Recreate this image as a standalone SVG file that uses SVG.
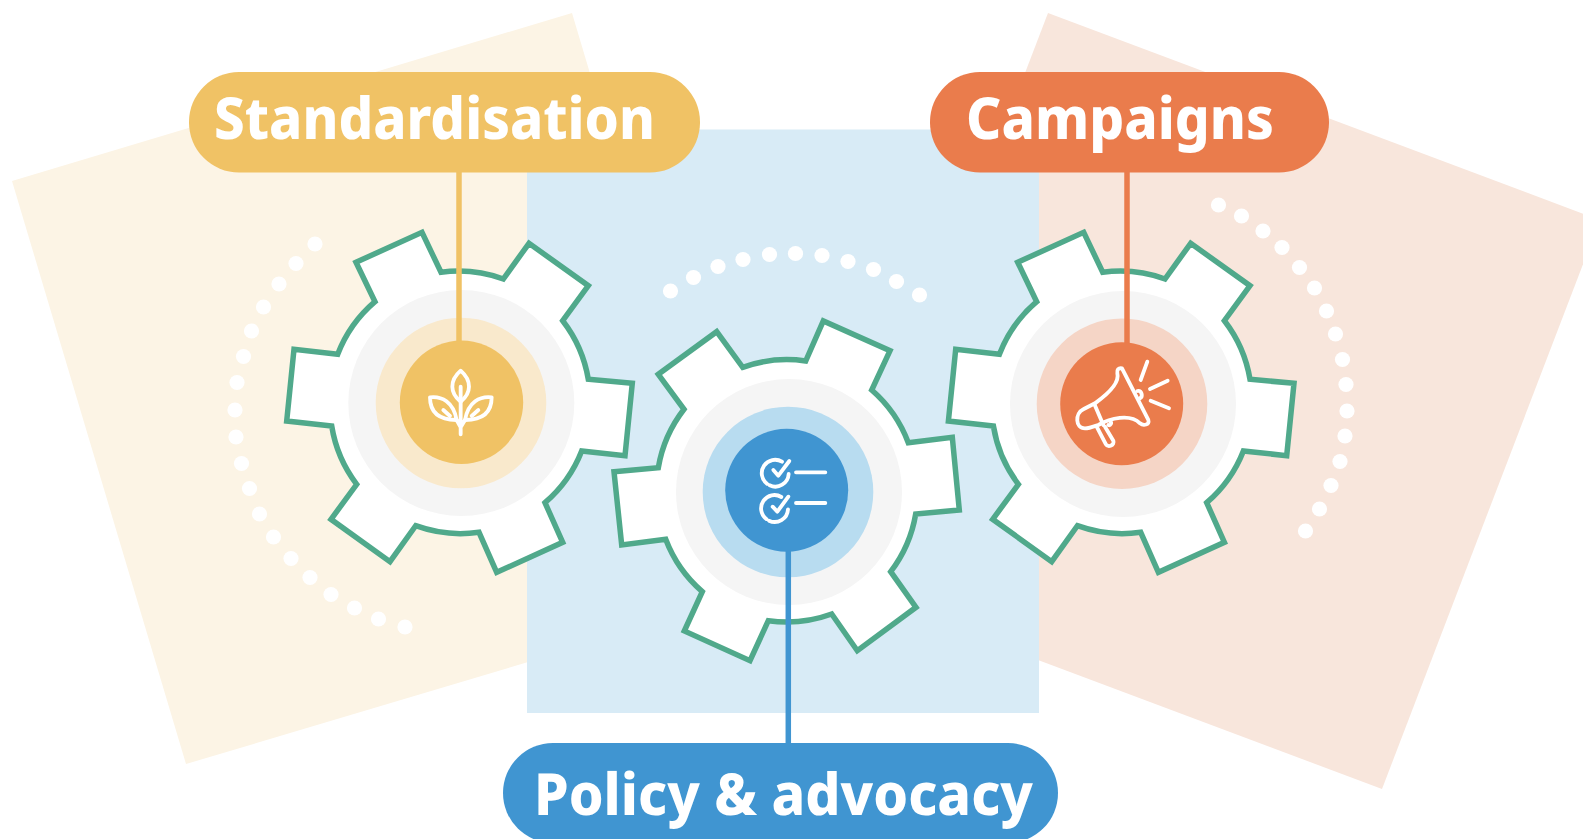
<svg xmlns="http://www.w3.org/2000/svg" width="1583" height="839" viewBox="0 0 1583 839">
<defs>
<style>
.gear{fill:#fff;stroke:#50A98B;stroke-width:5.500;stroke-linejoin:miter}
.grey{fill:#F5F5F5}
.ic{fill:none;stroke:#fff;stroke-width:11.500;stroke-linecap:round;stroke-linejoin:round}
.dots circle{fill:#fff;r:7.6px}
.lab{font-family:"Noto Sans","Liberation Sans",sans-serif;font-weight:800;fill:#fff;font-size:58px;text-rendering:geometricPrecision}
</style>
<path id="g" d="M356 262.3L422 232.3L441 272.3A131 131 0 0 1 503.3 279L529 243.3L588.3 285.7L562.7 320.7A131 131 0 0 1 588.3 379.3L632.3 383.3L625 455.7L581.7 451A131 131 0 0 1 545 502.7L562.7 542.3L496.7 572.3L479 532.3A131 131 0 0 1 415.7 525.7L390 561.7L331 519.3L356.7 484.3A131 131 0 0 1 331.7 426L286.7 421L294 349.3L337.7 354.3A131 131 0 0 1 375 301.7Z"/>
</defs>
<polygon fill="#FCF4E5" points="12,181 572,13 746,597 186,764"/>
<polygon fill="#F8E6DC" points="1048,13 1600,220 1382,789 830,582"/>
<rect x="527" y="129.500" width="512" height="583.500" fill="#D8EBF6"/>
<g id="dots-left" class="dots">
<circle cx="315" cy="244"/><circle cx="296" cy="263.500"/><circle cx="279" cy="284"/><circle cx="263.500" cy="307"/><circle cx="251.500" cy="331"/><circle cx="243.500" cy="356.500"/><circle cx="237" cy="382.500"/><circle cx="235" cy="410"/><circle cx="236" cy="437"/><circle cx="241.500" cy="463.500"/><circle cx="249.500" cy="488.500"/><circle cx="259.500" cy="514"/><circle cx="273.500" cy="537"/><circle cx="291" cy="558.500"/><circle cx="310" cy="577.500"/><circle cx="331" cy="594.500"/><circle cx="354.500" cy="608"/><circle cx="378.500" cy="619"/><circle cx="405" cy="627"/>
</g>
<g id="dots-mid" class="dots">
<circle cx="670.500" cy="291"/><circle cx="693.500" cy="277.500"/><circle cx="718" cy="266.500"/><circle cx="743" cy="259.500"/><circle cx="769.500" cy="254.500"/><circle cx="795.500" cy="253.500"/><circle cx="822" cy="255.500"/><circle cx="848" cy="261.500"/><circle cx="873.500" cy="269.500"/><circle cx="896.500" cy="281.500"/><circle cx="919.500" cy="295"/>
</g>
<g id="dots-right" class="dots">
<circle cx="1218.500" cy="205"/><circle cx="1241.500" cy="216"/><circle cx="1263" cy="231"/><circle cx="1282" cy="247.500"/><circle cx="1299.500" cy="267.500"/><circle cx="1314.500" cy="288"/><circle cx="1326.500" cy="311"/><circle cx="1335.500" cy="334"/><circle cx="1342.500" cy="359.500"/><circle cx="1346" cy="384.500"/><circle cx="1347" cy="411"/><circle cx="1345" cy="436"/><circle cx="1340" cy="461.500"/><circle cx="1331" cy="485.500"/><circle cx="1319.500" cy="509"/><circle cx="1305.500" cy="531"/>
</g>
<g id="gear-standardisation">
<use href="#g" class="gear"/>
<circle class="grey" cx="461.300" cy="403" r="113"/>
<circle cx="461" cy="403" r="85.300" fill="#F9E9CC"/>
</g>
<g id="gear-policy">
<path class="gear" d="M658.300 374.300L716.700 331.700L742.700 367.300A131 131 0 0 1 805.700 361L823.300 321L890 350.700L871.700 390A131 131 0 0 1 908.300 442.700L952.300 437.300L959.300 510L915.700 514A131 131 0 0 1 890.700 571.700L916 607.300L857.300 650.700L831.700 614A131 131 0 0 1 768.300 620.700L750 660.700L684.300 631L702.300 591.700A131 131 0 0 1 665.700 539.300L621.700 545L614 471.700L658.300 467.700A131 131 0 0 1 684 409.300Z"/>
<circle class="grey" cx="789" cy="492" r="113"/>
<circle cx="788" cy="492" r="85.300" fill="#B8DCF0"/>
</g>
<g id="gear-campaigns">
<use href="#g" class="gear" x="661.700"/>
<circle class="grey" cx="1123" cy="404" r="113"/>
<circle cx="1122" cy="403.700" r="85.300" fill="#F5D5C6"/>
</g>
<g id="connectors">
<line x1="459" y1="170" x2="459" y2="345" stroke="#F0C265" stroke-width="5.500"/>
<line x1="1127" y1="170" x2="1127" y2="345" stroke="#EA7C4C" stroke-width="5.500"/>
<line x1="788.300" y1="545" x2="788.300" y2="745" stroke="#4095D1" stroke-width="5.500"/>
</g>
<g id="hub-standardisation">
<circle cx="461.500" cy="402.300" r="61.700" fill="#F0C265"/>
<g class="ic" transform="translate(395 340) scale(.3333)">
<path d="M197 92C182 105 172 120 172 140C172 160 185 175 197 185C209 175 222 160 222 140C222 120 212 105 197 92Z"/>
<path d="M197 140V283M197 262L185 240M197 262L210 240"/>
<path d="M105 172C140 168 175 185 185 240C140 240 105 225 105 172Z"/>
<path d="M290 172C255 168 220 185 210 240C255 240 290 225 290 172Z"/>
<path d="M145 210L165 228M250 210L230 228"/>
</g>
</g>
<g id="hub-policy">
<circle cx="786.700" cy="490.300" r="61.500" fill="#4095D1"/>
<g class="ic" transform="translate(720 425) scale(.3333)">
<path d="M186 110A40 40 0 0 0 141 176M149 181A40 40 0 0 0 206 147"/>
<path d="M160 135L175 152L208 108M228 142H316"/>
<path d="M184 216A40 40 0 0 0 139 282M147 287A40 40 0 0 0 204 253"/>
<path d="M158 245L172 260L205 215M228 234H316"/>
</g>
</g>
<g id="hub-campaigns">
<circle cx="1121.700" cy="403.700" r="61.500" fill="#EA7C4C"/>
<g class="ic" transform="translate(1040 330) scale(.3333)">
<path d="M246 115C235 113 230 120 232 130C240 160 200 195 165 220L130 238C105 250 105 295 135 295C150 295 165 288 175 285C210 265 270 250 300 280C310 288 330 285 325 270L246 115Z"/>
<path d="M163 222L190 285M170 290L197 342C205 355 225 345 220 332L195 290"/>
<path d="M292 183C305 180 310 200 300 205M205 285C212 288 215 278 212 276"/>
<path d="M322 95L302 150M383 152L330 177M332 212L387 235"/>
</g>
</g>
<g id="label-standardisation">
<rect x="189" y="72" width="511" height="100.500" rx="50" fill="#F0C265"/>
<text class="lab" x="214" y="139" textLength="441" lengthAdjust="spacingAndGlyphs">Standardisation</text>
</g>
<g id="label-campaigns">
<rect x="930" y="72" width="399" height="100.500" rx="50" fill="#EA7C4C"/>
<text class="lab" x="966" y="139" textLength="308" lengthAdjust="spacingAndGlyphs">Campaigns</text>
</g>
<g id="label-policy">
<rect x="503" y="743" width="555" height="100" rx="50" fill="#4095D1"/>
<text class="lab" x="534" y="815" textLength="499" lengthAdjust="spacingAndGlyphs">Policy &amp; advocacy</text>
</g>
</svg>
